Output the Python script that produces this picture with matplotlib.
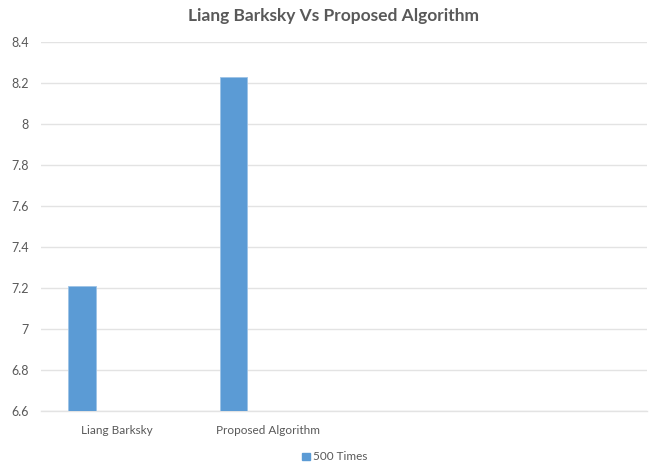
import matplotlib
matplotlib.use("Agg")
import matplotlib.pyplot as plt
from matplotlib.patches import Patch

categories = ["Liang Barksky", "Proposed Algorithm", "", ""]
series_name = "500 Times"
values = [7.21, 8.23, None, None]
yticks = [6.6, 6.8, 7.0, 7.2, 7.4, 7.6, 7.8, 8.0, 8.2, 8.4]
ytick_labels = ["6.6", "6.8", "7", "7.2", "7.4", "7.6", "7.8", "8", "8.2", "8.4"]

fig = plt.figure(figsize=(6.51, 4.66), dpi=100)
ax = fig.add_axes([41/651, 1-411/466, (647-41)/651, (411-42)/466])

color = "#5B9BD5"
gray = "#595959"
font = "Lato"
xs = [i for i, v in enumerate(values) if v is not None]
vs = [v for v in values if v is not None]
ax.bar([x - 0.23 for x in xs], [v - 6.6 for v in vs], bottom=6.6, width=0.18,
       color=color, edgecolor="#9DC3E6", linewidth=0.6, zorder=3)

ax.set_xlim(-0.5, len(categories) - 0.5)
ax.set_ylim(6.6, 8.4)
ax.set_yticks(yticks)
ax.set_yticklabels(ytick_labels, fontsize=9, color=gray, family=font)
ax.set_xticks(range(len(categories)))
ax.set_xticklabels(categories, fontsize=8.5, color=gray, family=font)
ax.tick_params(axis="x", length=0, pad=10)
ax.tick_params(axis="y", length=0, pad=9)
ax.grid(axis="y", color="#E3E3E3", linewidth=1, zorder=0)
for s in ["top", "right", "left"]:
    ax.spines[s].set_visible(False)
ax.spines["bottom"].set_color("#E3E3E3")
ax.spines["bottom"].set_linewidth(1)

fig.text(333/651, 1-16/466, "Liang Barksky Vs Proposed Algorithm", ha="center", va="center",
         fontsize=12.5, fontweight="bold", color=gray, family=font)

handle = Patch(facecolor=color, edgecolor=color)
fig.legend([handle], [series_name], loc="center", bbox_to_anchor=(335/651, 1-457/466),
           frameon=False, handlelength=0.6, handleheight=0.6,
           handletextpad=0.3, labelcolor=gray, prop={"family": font, "size": 8.5})

fig.savefig("out.png", dpi=100)
